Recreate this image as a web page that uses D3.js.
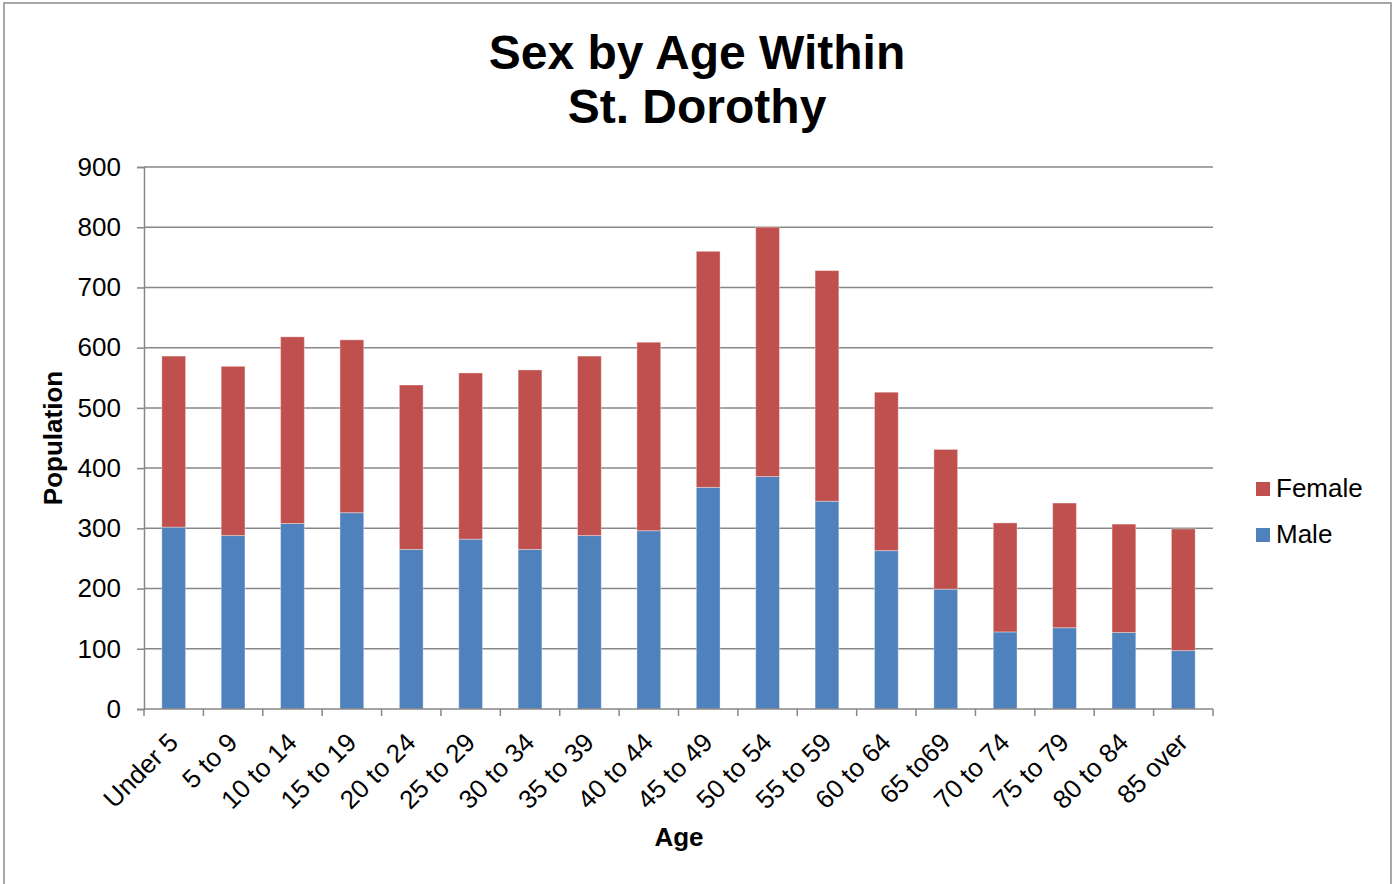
<!DOCTYPE html>
<html>
<head>
<meta charset="utf-8">
<script src="https://cdn.jsdelivr.net/npm/d3@7"></script>
<style>
  html, body { margin: 0; padding: 0; background: #fff; }
  svg { display: block; font-family: "Liberation Sans", Arial, sans-serif; }
</style>
</head>
<body>
<svg id="chart" width="1397" height="884"></svg>
<script>
const categories = ["Under 5","5 to 9","10 to 14","15 to 19","20 to 24","25 to 29","30 to 34","35 to 39","40 to 44","45 to 49","50 to 54","55 to 59","60 to 64","65 to69","70 to 74","75 to 79","80 to 84","85 over"];
const male   = [302, 288, 308, 326, 265, 282, 265, 288, 296, 368, 386, 345, 263, 199, 128, 135, 127, 97];
const female = [284, 281, 310, 287, 273, 276, 298, 298, 313, 392, 414, 383, 263, 232, 181, 207, 180, 202];
const yTicks = [0, 100, 200, 300, 400, 500, 600, 700, 800, 900];
const seriesNames = ["Male", "Female"];
const seriesColors = ["#4F81BD", "#C0504D"];
const titleLines = ["Sex by Age Within", "St. Dorothy"];

const svg = d3.select("#chart");
const plot = { left: 144, right: 1213, top: 167, bottom: 709 };

// outer border
svg.append("rect").attr("x", 4).attr("y", 3).attr("width", 1387).attr("height", 895)
  .attr("fill", "#fff").attr("stroke", "#8a8a8a").attr("stroke-width", 1.5);

const x = d3.scaleBand().domain(categories).range([plot.left, plot.right]).paddingInner(0.6).paddingOuter(0.3);
const y = d3.scaleLinear().domain([0, 900]).range([plot.bottom, plot.top]);

// gridlines
svg.append("g").selectAll("line").data(yTicks.filter(d => d > 0)).join("line")
  .attr("x1", plot.left).attr("x2", plot.right)
  .attr("y1", d => y(d)).attr("y2", d => y(d))
  .attr("stroke", "#878787").attr("stroke-width", 1.5);

// stacked bars
const rows = categories.map((c, i) => ({ cat: c, Male: male[i], Female: female[i] }));
const stack = d3.stack().keys(seriesNames)(rows);
svg.append("g").selectAll("g").data(stack).join("g")
  .attr("fill", (d, i) => seriesColors[i])
  .selectAll("rect").data(d => d).join("rect")
  .attr("x", d => x(d.data.cat))
  .attr("width", x.bandwidth())
  .attr("y", d => y(d[1]))
  .attr("height", d => y(d[0]) - y(d[1]))
  .attr("stroke", "rgba(255,255,255,0.35)").attr("stroke-width", 1);

// y axis
const yAxis = d3.axisLeft(y).tickValues(yTicks).tickSize(7).tickPadding(16);
const gy = svg.append("g").attr("transform", `translate(${plot.left},0)`).call(yAxis);
gy.select(".domain").attr("stroke", "#878787").attr("stroke-width", 1.5);
gy.selectAll(".tick line").attr("stroke", "#878787").attr("stroke-width", 1.5);
gy.selectAll(".tick text").attr("font-size", 26).attr("fill", "#000")
  .attr("font-family", "Liberation Sans, Arial, sans-serif");

// x axis
const bounds = d3.range(categories.length + 1).map(i => plot.left + (plot.right - plot.left) * i / categories.length);
svg.append("line").attr("x1", plot.left).attr("x2", plot.right).attr("y1", plot.bottom).attr("y2", plot.bottom)
  .attr("stroke", "#878787").attr("stroke-width", 1.5);
svg.append("g").selectAll("line").data(bounds).join("line")
  .attr("x1", d => d).attr("x2", d => d).attr("y1", plot.bottom).attr("y2", plot.bottom + 7)
  .attr("stroke", "#878787").attr("stroke-width", 1.5);
svg.append("g").selectAll("text").data(categories).join("text")
  .attr("transform", d => `translate(${x(d) + x.bandwidth() / 2 + 6},${plot.bottom + 35}) rotate(-45)`)
  .attr("text-anchor", "end").attr("font-size", 26).attr("fill", "#000")
  .text(d => d);

// axis titles
svg.append("text").attr("x", 679).attr("y", 846).attr("text-anchor", "middle")
  .attr("font-size", 26).attr("font-weight", "bold").text("Age");
svg.append("text").attr("transform", "translate(62,438) rotate(-90)").attr("text-anchor", "middle")
  .attr("font-size", 26).attr("font-weight", "bold").text("Population");

// title
svg.append("g").selectAll("text").data(titleLines).join("text")
  .attr("x", 697).attr("y", (d, i) => 69 + i * 54).attr("text-anchor", "middle")
  .attr("font-size", 48).attr("font-weight", "bold").text(d => d);

// legend (Female on top)
const legendItems = [{ name: "Female", color: seriesColors[1] }, { name: "Male", color: seriesColors[0] }];
const lg = svg.append("g").selectAll("g").data(legendItems).join("g")
  .attr("transform", (d, i) => `translate(1256,${482 + i * 46})`);
lg.append("rect").attr("width", 14).attr("height", 14).attr("fill", d => d.color);
lg.append("text").attr("x", 20).attr("y", 15).attr("font-size", 26).text(d => d.name);
</script>
</body>
</html>
